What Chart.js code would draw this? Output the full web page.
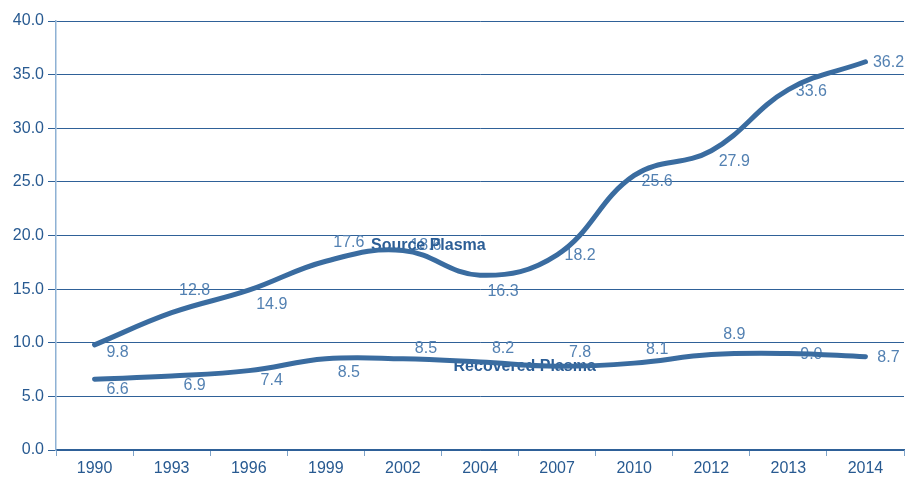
<!DOCTYPE html>
<html>
<head>
<meta charset="utf-8">
<script src="https://cdn.jsdelivr.net/npm/chart.js@4.4.1/dist/chart.umd.min.js"></script>
<style>
  html, body { margin: 0; padding: 0; background: #ffffff; }
  #wrap { width: 906px; height: 479px; position: relative; }
</style>
</head>
<body>
<div id="wrap"><canvas id="c" width="906" height="479"></canvas></div>
<script>
// ---- data ----
const years = ['1990', '1993', '1996', '1999', '2002', '2004', '2007', '2010', '2012', '2013', '2014'];
const sourcePlasma = [9.8, 12.8, 14.9, 17.6, 18.6, 16.3, 18.2, 25.6, 27.9, 33.6, 36.2];
const recoveredPlasma = [6.6, 6.9, 7.4, 8.5, 8.5, 8.2, 7.8, 8.1, 8.9, 9.0, 8.7];
const yTicks = [0, 5, 10, 15, 20, 25, 30, 35, 40];
const seriesNames = ['Source Plasma', 'Recovered Plasma'];

// ---- label placement hints (pixels offset from point) ----
const sourceLabelDy = [8, -22, 14, -19, -5, 16, 1, 6, 11, 2, 1];
const recoveredLabelDy = [10, 10, 10, 14, -10, -13, -14, -14, -20, 1, 1];
const labelDx = 23;
// series name anchors in data space (category index, value)
const seriesNameAnchors = [[4.33, 19.1], [5.58, 7.75]];

const LINE = '#3a6ca0';
const GRID = '#2f6198';
const TEXT = '#285a91';
const LABEL = '#5381b2';
const FONT = '"Liberation Sans", Arial, sans-serif';

const labelPlugin = {
  id: 'valueLabels',
  beforeDatasetsDraw(chart) {
    const ctx = chart.ctx;
    const xs = chart.scales.x, ys = chart.scales.y;
    ctx.save();
    ctx.textAlign = 'center';
    ctx.textBaseline = 'middle';
    // value labels
    ctx.font = '16px ' + FONT;
    ctx.fillStyle = LABEL;
    const dys = [sourceLabelDy, recoveredLabelDy];
    chart.data.datasets.forEach((ds, di) => {
      const meta = chart.getDatasetMeta(di);
      meta.data.forEach((pt, i) => {
        ctx.fillText(ds.data[i].toFixed(1), pt.x + labelDx, pt.y + dys[di][i]);
      });
    });
    // series names
    ctx.font = 'bold 16px ' + FONT;
    ctx.fillStyle = '#2c5e96';
    seriesNames.forEach((name, i) => {
      const [ci, v] = seriesNameAnchors[i];
      const x = xs.getPixelForValue(0) + (xs.getPixelForValue(1) - xs.getPixelForValue(0)) * ci;
      ctx.fillText(name, x, ys.getPixelForValue(v));
    });
    ctx.restore();
  }
};

new Chart(document.getElementById('c'), {
  type: 'line',
  data: {
    labels: years,
    datasets: [
      { label: seriesNames[0], data: sourcePlasma, borderColor: LINE, borderWidth: 5, pointRadius: 0, tension: 0.4, fill: false, borderCapStyle: 'round' },
      { label: seriesNames[1], data: recoveredPlasma, borderColor: LINE, borderWidth: 5, pointRadius: 0, tension: 0.4, fill: false, borderCapStyle: 'round' }
    ]
  },
  options: {
    responsive: false,
    animation: false,
    devicePixelRatio: 1,
    layout: { padding: { top: 21, right: 2, left: 0, bottom: 0 } },
    plugins: { legend: { display: false }, tooltip: { enabled: false } },
    scales: {
      x: {
        offset: true,
        grid: { display: true, drawOnChartArea: false, drawTicks: true, tickLength: 6, offset: true, color: '#7ea3c9', lineWidth: 1 },
        border: { display: true, color: GRID, width: 1.5 },
        ticks: { color: TEXT, font: { family: FONT, size: 16 }, padding: 3, maxRotation: 0, autoSkip: false },
        afterFit(s) { s.height = 29; }
      },
      y: {
        min: 0, max: 40,
        afterBuildTicks(s) { s.ticks = yTicks.map(v => ({ value: v })); },
        grid: { color: GRID, lineWidth: 1, drawTicks: true, tickLength: 8 },
        border: { display: true, color: '#8eb1d4', width: 1.5 },
        ticks: { color: TEXT, font: { family: FONT, size: 16 }, padding: 4, callback: v => Number(v).toFixed(1) },
        afterFit(s) { s.width = 56; }
      }
    }
  },
  plugins: [labelPlugin]
});
</script>
</body>
</html>
